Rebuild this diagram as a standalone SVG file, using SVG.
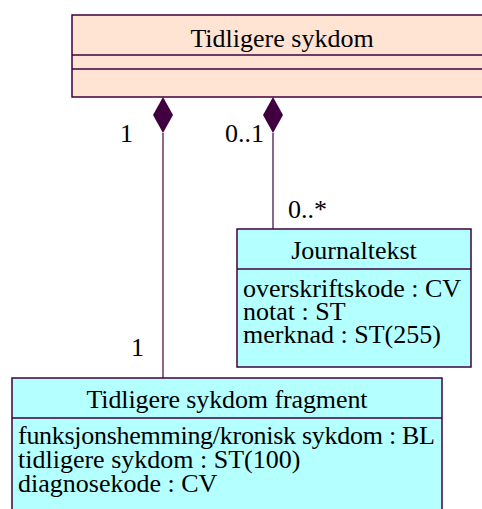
<svg xmlns="http://www.w3.org/2000/svg" width="482" height="509" viewBox="0 0 482 509">
<style>
text{font-family:"Liberation Serif","Times New Roman",serif;font-size:26px;fill:#000}
.c{text-anchor:middle}
.box{stroke:#400040;stroke-width:1.5}
.peach{fill:#FFE4D4}
.cyan{fill:#B4FFFF}
.ln{stroke:#400040;stroke-width:1.2;fill:none}
.dia{fill:#400040;stroke:none}
</style>
<rect width="482" height="509" fill="#fff"/>
<g id="tidligere-sykdom">
<rect class="box peach" x="72" y="15" width="420" height="82"/>
<line class="box" x1="72" y1="55" x2="492" y2="55"/>
<line class="box" x1="72" y1="69" x2="492" y2="69"/>
<text class="c" x="282" y="47">Tidligere sykdom</text>
</g>
<g id="journaltekst">
<rect class="box cyan" x="237" y="229" width="234" height="138"/>
<line class="box" x1="237" y1="269" x2="471" y2="269"/>
<text class="c" x="354" y="259">Journaltekst</text>
<text x="243" y="297">overskriftskode : CV<tspan x="243" y="320">notat : ST</tspan><tspan x="243" y="343">merknad : ST(255)</tspan></text>
</g>
<g id="fragment">
<rect class="box cyan" x="12" y="378" width="430" height="140"/>
<line class="box" x1="12" y1="418" x2="442" y2="418"/>
<text class="c" x="227" y="408" textLength="281" lengthAdjust="spacing">Tidligere sykdom fragment</text>
<text x="18" y="444"><tspan textLength="417" lengthAdjust="spacing">funksjonshemming/kronisk sykdom : BL</tspan><tspan x="18" y="468">tidligere sykdom : ST(100)</tspan><tspan x="18" y="492">diagnosekode : CV</tspan></text>
</g>
<g id="connectors">
<line class="ln" x1="163" y1="133" x2="163" y2="378"/>
<polygon class="dia" points="163,97 173,115 163,133 153,115"/>
<line class="ln" x1="273" y1="133" x2="273" y2="229"/>
<polygon class="dia" points="273,97 283,115 273,133 263,115"/>
<text x="120" y="142">1</text>
<text x="225" y="142">0..1</text>
<text x="288" y="218">0..*</text>
<text x="131" y="356">1</text>
</g>
</svg>
